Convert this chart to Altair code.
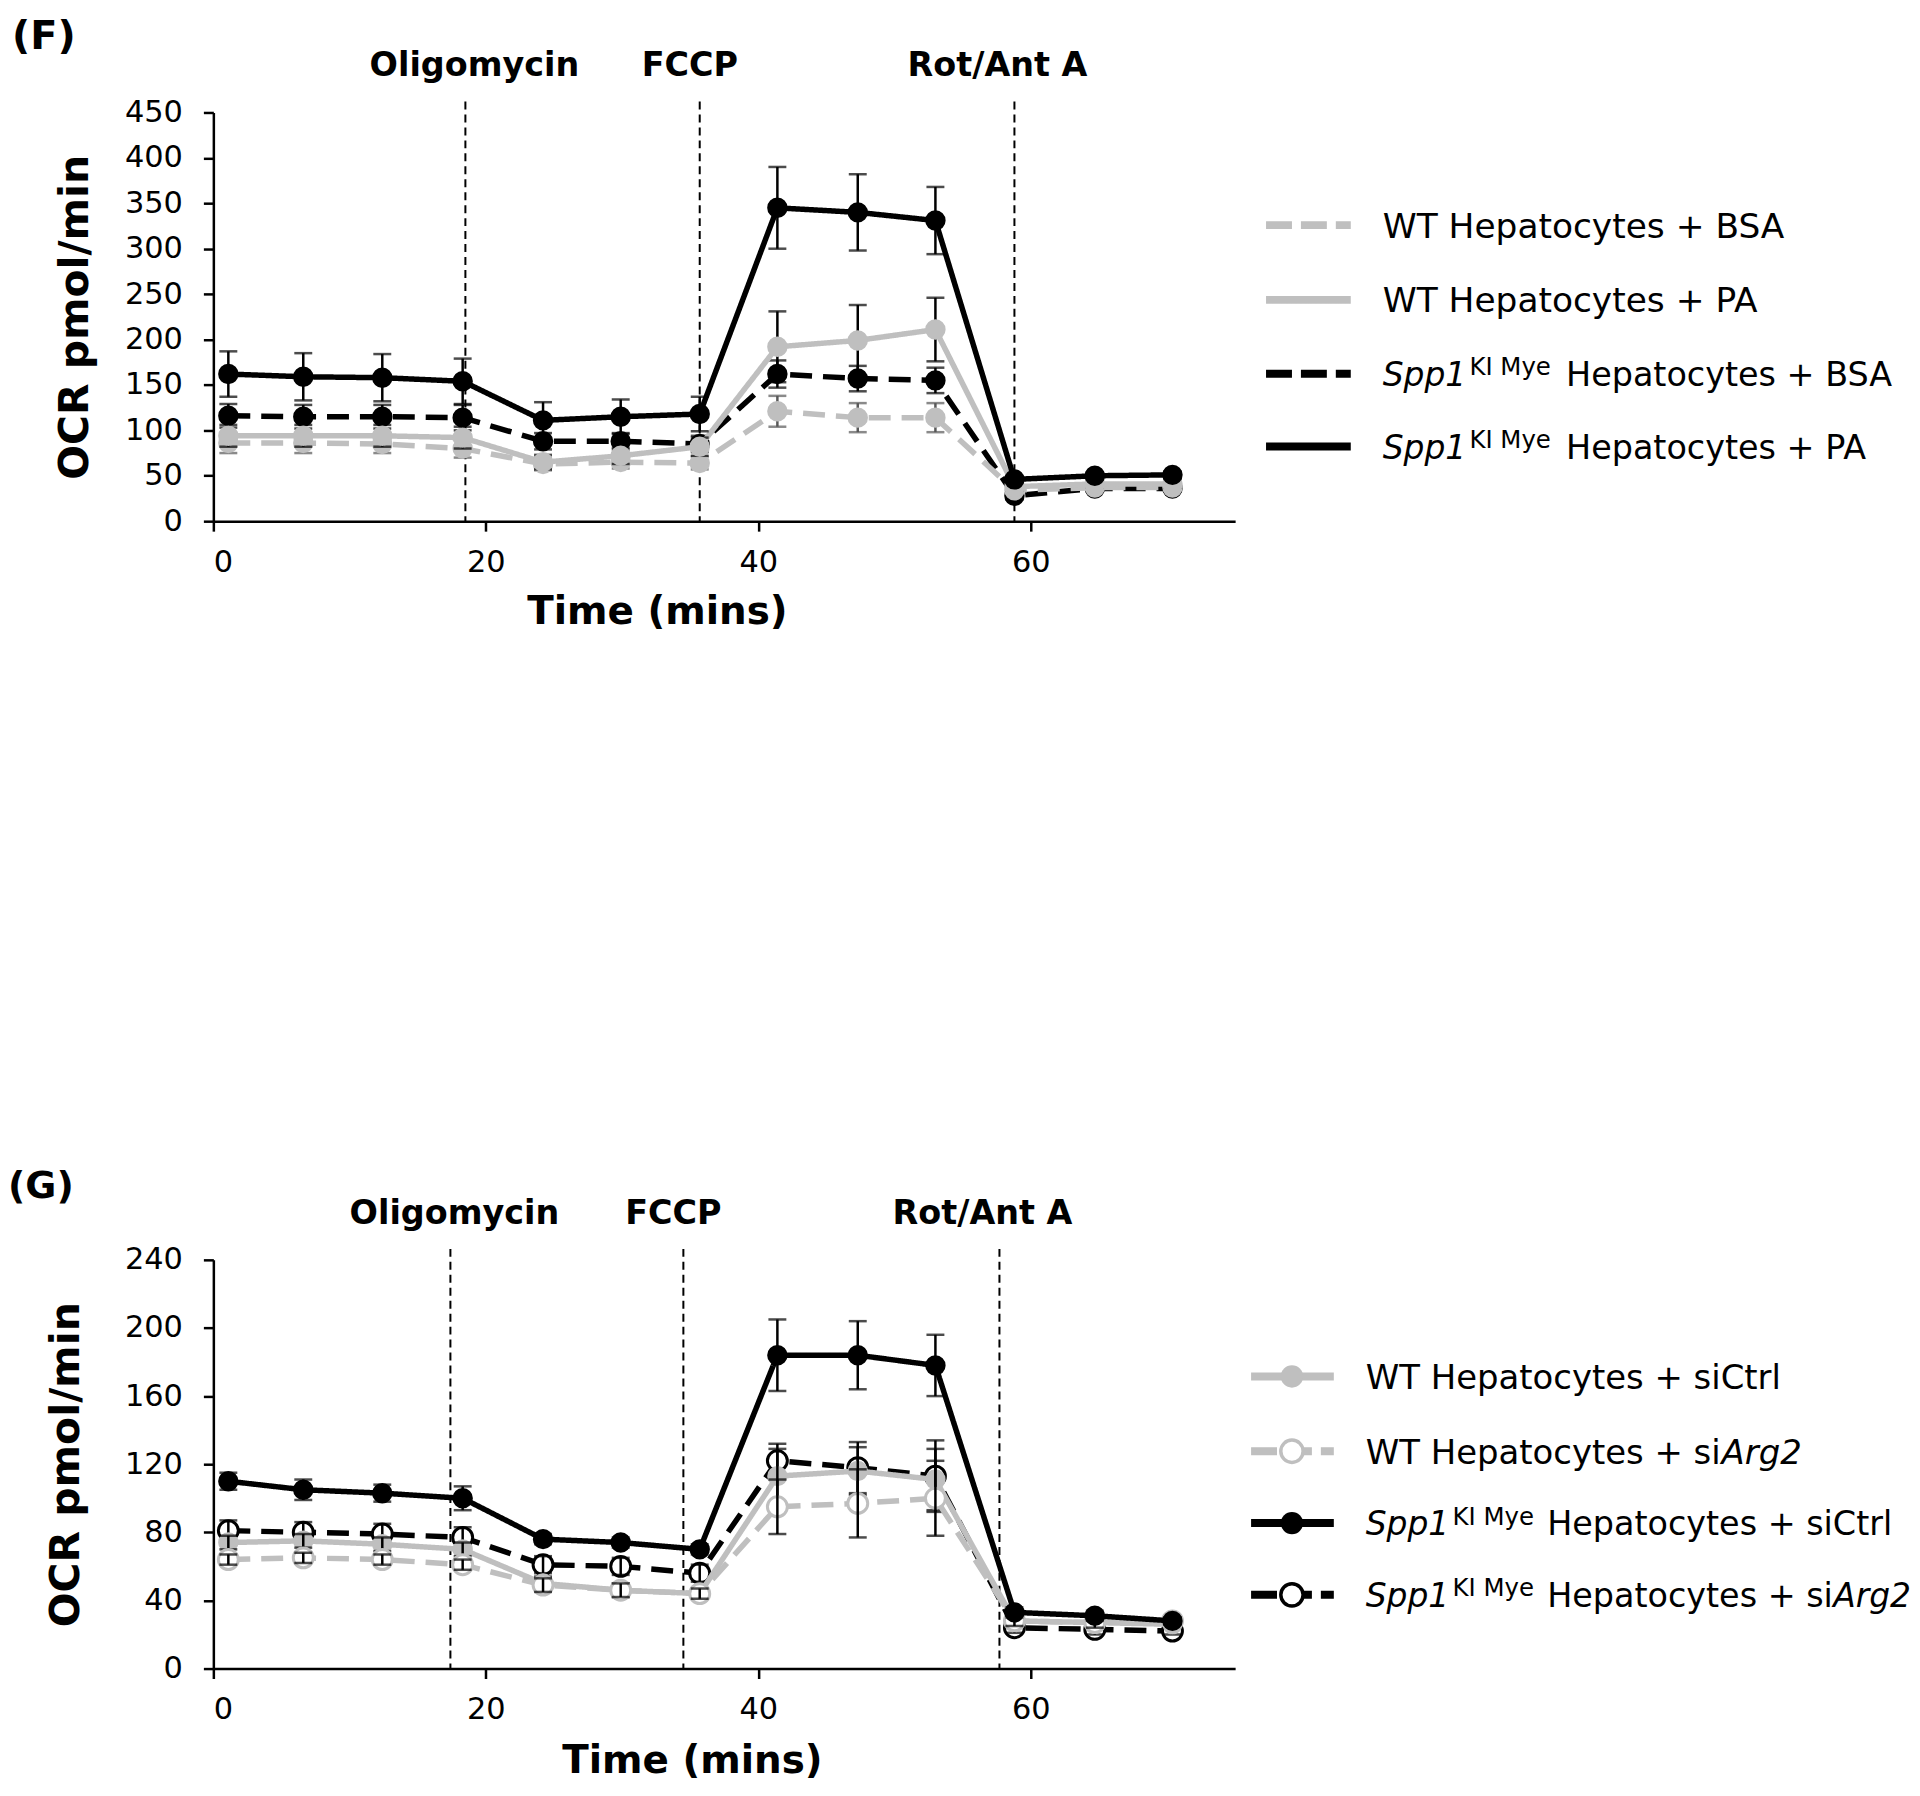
import altair as alt
import pandas as pd

FONT = "DejaVu Sans"
GRAY = "#bfbfbf"
BLACK = "#000000"

# ---------------- data ----------------
TIME = [1.1, 6.6, 12.4, 18.3, 24.2, 29.9, 35.7, 41.4, 47.3, 53.0, 58.8, 64.7, 70.4]
INJECTIONS = ["Oligomycin", "FCCP", "Rot/Ant A"]
F_INJECT_T = [18.5, 35.7, 58.8]
G_INJECT_T = [17.4, 34.5, 57.7]

F_NAMES = ["WT Hepatocytes + BSA", "WT Hepatocytes + PA",
           "Spp1 KI Mye Hepatocytes + BSA", "Spp1 KI Mye Hepatocytes + PA"]
F_WT_BSA = [86, 86, 85, 80, 63, 65, 64, 121, 114, 114, 34, 37, 37]
F_WT_BSA_ERR = [11, 11, 10, 10, 7, 7, 7, 17, 16, 16, 4, 3, 3]
F_WT_PA = [94, 94, 94, 92, 65, 72, 82, 192, 199, 211, 38, 41, 41]
F_WT_PA_ERR = [12, 12, 12, 12, 8, 9, 10, 39, 39, 35, 4, 4, 4]
F_KO_BSA = [116, 115, 115, 114, 88, 88, 85, 162, 157, 155, 28, 36, 36]
F_KO_BSA_ERR = [13, 13, 13, 14, 9, 9, 9, 15, 14, 14, 4, 3, 3]
F_KO_PA = [162, 159, 158, 154, 111, 115, 118, 345, 340, 331, 46, 50, 51]
F_KO_PA_ERR = [25, 26, 26, 25, 20, 19, 19, 45, 42, 37, 4, 4, 4]

G_NAMES = ["WT Hepatocytes + siCtrl", "WT Hepatocytes + siArg2",
           "Spp1 KI Mye Hepatocytes + siCtrl", "Spp1 KI Mye Hepatocytes + siArg2"]
G_WT_CTRL = [74, 75, 73, 70, 50, 46, 44, 113, 116, 111, 28, 27, 26]
G_WT_CTRL_ERR = [4, 4, 4, 4, 4, 4, 3, 16, 14, 18, 3, 3, 2]
G_WT_ARG2 = [64, 65, 64, 61, 49, 46, 44, 95, 97, 100, 28, 27, 28]
G_WT_ARG2_ERR = [3, 3, 3, 3, 4, 4, 3, 16, 20, 22, 3, 3, 2]
G_KO_CTRL = [110, 105, 103, 100, 76, 74, 70, 184, 184, 178, 33, 31, 28]
G_KO_CTRL_ERR = [5, 6, 5, 7, 3, 3, 3, 21, 20, 18, 3, 3, 2]
G_KO_ARG2 = [81, 80, 79, 77, 61, 60, 56, 122, 118, 113, 24, 23, 22]
G_KO_ARG2_ERR = [6, 6, 6, 6, 5, 5, 5, 10, 15, 21, 3, 3, 2]

W, H = 1025, 410
DASH = [22, 11]


def sdf(vals, errs):
    return pd.DataFrame({"t": TIME, "v": vals,
                         "lo": [v - e for v, e in zip(vals, errs)],
                         "hi": [v + e for v, e in zip(vals, errs)]})


def one():
    return pd.DataFrame({"k": [0]})


def make_panel(series, order, err_on_top, inject_t, inject_dx, ymax, ystep,
               panel_label, panel_fs, panel_xy, treat_y, title_x, title_y, ytitle_x,
               legend_rows, legend_y, legend_line, legend_text_x, legend_marker_x):
    xscale = alt.Scale(domain=[0, 75], nice=False, zero=False)
    yscale = alt.Scale(domain=[0, ymax], nice=False)
    xaxis = alt.Axis(values=[0, 20, 40, 60], title="Time (mins)", grid=False,
                     tickSize=10, tickWidth=2.5, tickColor=BLACK,
                     domainWidth=2.5, domainColor=BLACK,
                     labelFont=FONT, labelFontSize=30.5, labelColor=BLACK, labelPadding=16,
                     titleFont=FONT, titleFontSize=39, titleFontWeight="bold", titleColor=BLACK,
                     titleX=title_x, titleY=title_y, titleAlign="center", titleBaseline="alphabetic")
    yaxis = alt.Axis(values=list(range(0, ymax + 1, ystep)), title="OCR pmol/min", grid=False,
                     tickSize=10, tickWidth=2.5, tickColor=BLACK,
                     domainWidth=2.5, domainColor=BLACK,
                     labelFont=FONT, labelFontSize=30.5, labelColor=BLACK, labelPadding=21,
                     titleFont=FONT, titleFontSize=41, titleFontWeight="bold", titleColor=BLACK,
                     titleX=ytitle_x, titleY=H / 2, titleAngle=-90,
                     titleAlign="center", titleBaseline="middle")
    X = alt.X("t:Q", scale=xscale, axis=xaxis)

    layers = []
    inj = pd.DataFrame({"t": inject_t, "name": INJECTIONS})
    layers.append(alt.Chart(inj).mark_rule(color=BLACK, strokeWidth=2, strokeDash=[8, 5]).encode(
        x=X, y=alt.value(-11), y2=alt.value(H)))

    for i in order:
        s = series[i]
        d = sdf(s["v"], s["e"])
        base = alt.Chart(d)
        line = base.mark_line(color=s["color"], strokeWidth=5.5,
                              strokeDash=s["dash"] if s["dash"] else [1, 0]).encode(
            x=X, y=alt.Y("v:Q", scale=yscale, axis=yaxis))
        if s["open"]:
            pts = base.mark_point(shape="circle", size=400, fill="white", stroke=s["color"],
                                  strokeWidth=3, opacity=1, fillOpacity=1).encode(
                x=X, y=alt.Y("v:Q", scale=yscale, axis=yaxis))
        else:
            pts = base.mark_point(shape="circle", size=420, filled=True, color=s["color"],
                                  opacity=1).encode(
                x=X, y=alt.Y("v:Q", scale=yscale, axis=yaxis))
        ec = s["ecolor"]
        err = [
            base.mark_rule(color=ec, strokeWidth=2.5).encode(
                x=X, y=alt.Y("lo:Q", scale=yscale, axis=yaxis), y2="hi:Q"),
            base.mark_tick(color=ec, orient="horizontal", size=18, thickness=2.5).encode(
                x=X, y=alt.Y("lo:Q", scale=yscale, axis=yaxis)),
            base.mark_tick(color=ec, orient="horizontal", size=18, thickness=2.5).encode(
                x=X, y=alt.Y("hi:Q", scale=yscale, axis=yaxis)),
        ]
        if err_on_top:
            layers += [line, pts] + err
        else:
            layers += [line] + err + [pts]

    # treatment labels
    for k, name in enumerate(INJECTIONS):
        layers.append(alt.Chart(inj.iloc[[k]]).mark_text(
            font=FONT, fontSize=33.5, fontWeight="bold", color=BLACK, align="center",
            baseline="alphabetic", dx=inject_dx[k]).encode(
            x=X, y=alt.value(treat_y), text="name:N"))

    # panel label
    layers.append(alt.Chart(one()).mark_text(
        text=panel_label, font=FONT, fontSize=panel_fs, fontWeight="bold", color=BLACK,
        align="left", baseline="top").encode(
        x=alt.value(panel_xy[0]), y=alt.value(panel_xy[1])))

    # legend
    for r, row in enumerate(legend_rows):
        s = series[r]
        yc = legend_y[r]
        layers.append(alt.Chart(one()).mark_rule(
            color=s["color"], strokeWidth=8,
            strokeDash=[26, 9] if s["dash"] else [1, 0]).encode(
            x=alt.value(legend_line[0]), x2=alt.value(legend_line[1]), y=alt.value(yc)))
        if legend_marker_x is not None:
            if s["open"]:
                mk = alt.Chart(one()).mark_point(shape="circle", size=500, fill="white",
                                                 stroke=s["color"], strokeWidth=3.5,
                                                 opacity=1, fillOpacity=1)
            else:
                mk = alt.Chart(one()).mark_point(shape="circle", size=500, filled=True,
                                                 color=s["color"], opacity=1)
            layers.append(mk.encode(x=alt.value(legend_marker_x), y=alt.value(yc)))
        base_y = yc + 12.5
        for text, style, fs, dx in row:
            if style == "sup":
                kw = dict(fontStyle="normal")
                yy = base_y - 11
            elif style == "ital":
                kw = dict(fontStyle="italic")
                yy = base_y
            else:
                kw = dict(fontStyle="normal")
                yy = base_y
            layers.append(alt.Chart(one()).mark_text(
                text=text, font=FONT, fontSize=fs, color=BLACK, align="left",
                baseline="alphabetic", **kw).encode(
                x=alt.value(legend_text_x + dx), y=alt.value(yy)))

    return alt.layer(*layers).properties(width=W, height=H)


F_SERIES = [
    dict(v=F_WT_BSA, e=F_WT_BSA_ERR, color=GRAY, dash=DASH, open=False, ecolor="#595959"),
    dict(v=F_WT_PA, e=F_WT_PA_ERR, color=GRAY, dash=None, open=False, ecolor=BLACK),
    dict(v=F_KO_BSA, e=F_KO_BSA_ERR, color=BLACK, dash=DASH, open=False, ecolor=BLACK),
    dict(v=F_KO_PA, e=F_KO_PA_ERR, color=BLACK, dash=None, open=False, ecolor=BLACK),
]
G_SERIES = [
    dict(v=G_WT_CTRL, e=G_WT_CTRL_ERR, color=GRAY, dash=None, open=False, ecolor=BLACK),
    dict(v=G_WT_ARG2, e=G_WT_ARG2_ERR, color=GRAY, dash=DASH, open=True, ecolor=BLACK),
    dict(v=G_KO_CTRL, e=G_KO_CTRL_ERR, color=BLACK, dash=None, open=False, ecolor=BLACK),
    dict(v=G_KO_ARG2, e=G_KO_ARG2_ERR, color=BLACK, dash=DASH, open=True, ecolor=BLACK),
]

# (text, style, font size, x offset)
F_LEGEND = [
    [(F_NAMES[0], "main", 34.5, 0)],
    [(F_NAMES[1], "main", 34.5, 0)],
    [("Spp1", "ital", 33, 0), ("KI Mye", "sup", 24.5, 87), ("Hepatocytes + BSA", "main", 33.5, 184)],
    [("Spp1", "ital", 33, 0), ("KI Mye", "sup", 24.5, 87), ("Hepatocytes + PA", "main", 33.5, 184)],
]
G_LEGEND = [
    [(G_NAMES[0], "main", 34, 0)],
    [("WT Hepatocytes + si", "main", 34, 0), ("Arg2", "ital", 34, 357)],
    [("Spp1", "ital", 33, 0), ("KI Mye", "sup", 24.5, 87), ("Hepatocytes + siCtrl", "main", 33.5, 182)],
    [("Spp1", "ital", 33, 0), ("KI Mye", "sup", 24.5, 87), ("Hepatocytes + si", "main", 33.5, 182),
     ("Arg2", "ital", 33, 469)],
]

f_chart = make_panel(F_SERIES, [2, 0, 1, 3], False, F_INJECT_T, [9, -10, -17], 450, 50,
                     "(F)", 40, (-202, -96), -37, 445, 103, -138,
                     F_LEGEND, [113, 188, 262, 335], (1056, 1141), 1173, None)
g_chart = make_panel(G_SERIES, [3, 0, 1, 2], True, G_INJECT_T, [4, -10, -17], 240, 40,
                     "(G)", 38, (-206, -92), -36, 480, 104, -147,
                     G_LEGEND, [117, 192, 264, 336], (1041, 1124), 1156, 1082)

chart = alt.vconcat(f_chart, g_chart, spacing=741, bounds="flush").properties(
    padding={"left": 0, "top": 6, "right": 0, "bottom": 0},
    background="white",
).configure_view(stroke=None)

chart.save("out.html", embed_options={"renderer": "svg", "actions": False})
